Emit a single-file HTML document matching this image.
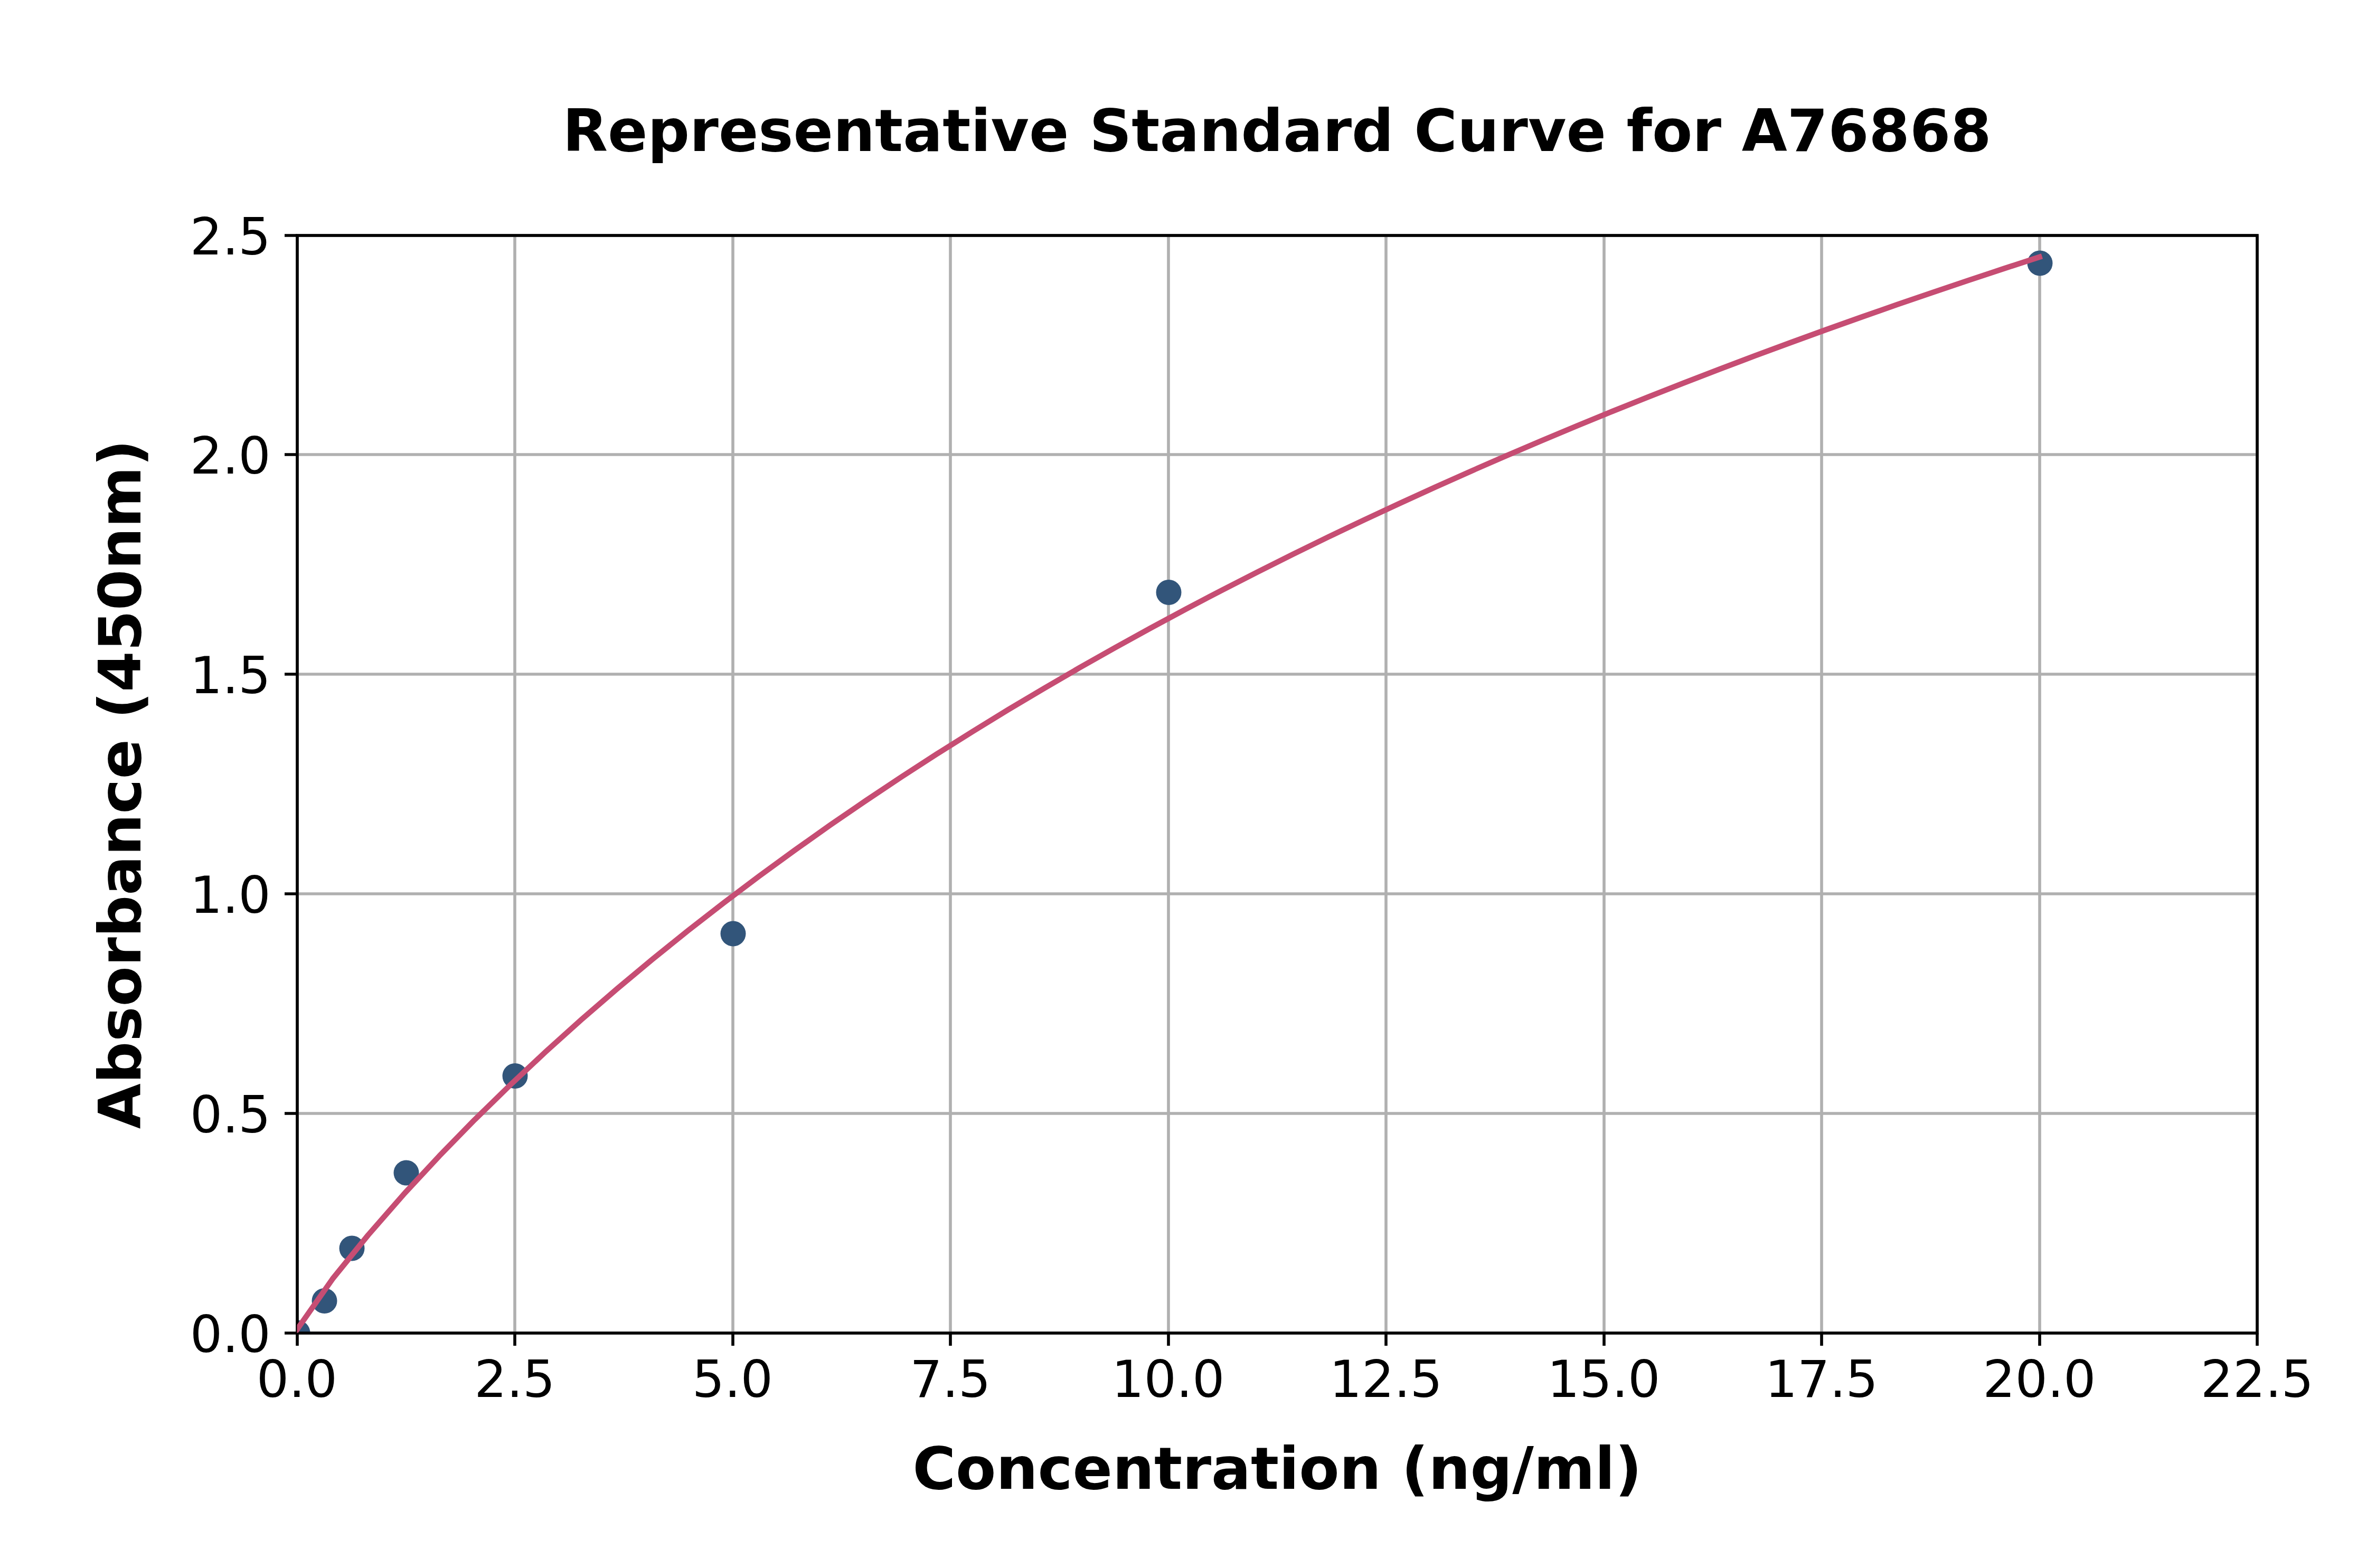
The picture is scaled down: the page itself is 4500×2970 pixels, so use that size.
<!DOCTYPE html>
<html lang="en"><head><meta charset="utf-8"><title>Representative Standard Curve for A76868</title>
<style>html,body{margin:0;padding:0;background:#fff}body{width:4500px;height:2970px;overflow:hidden}svg{display:block}text{font-family:"DejaVu Sans","Liberation Sans",sans-serif;fill:#000}.t{font-size:96.7px;letter-spacing:-0.3px}.b{font-size:111.2px;font-weight:bold}</style></head><body>
<svg width="4500" height="2970" viewBox="0 0 4500 2970">
<rect width="4500" height="2970" fill="#fff"/>
<defs><clipPath id="ax"><rect x="562.5" y="445.5" width="3712.5" height="2079.0"/></clipPath></defs>
<path d="M563 2525V446M975 2525V446M1388 2525V446M1800 2525V446M2213 2525V446M2625 2525V446M3038 2525V446M3450 2525V446M3863 2525V446M4275 2525V446M563 2525H4275M563 2109H4275M563 1693H4275M563 1277H4275M563 861H4275M563 446H4275" stroke="#b0b0b0" stroke-width="5.6" fill="none"/>
<g clip-path="url(#ax)" fill="#32557a">
<circle cx="563.5" cy="2524.5" r="24"/>
<circle cx="614.5" cy="2464.0" r="24"/>
<circle cx="666.5" cy="2364.5" r="24"/>
<circle cx="769.5" cy="2221.5" r="24"/>
<circle cx="975.5" cy="2038.0" r="24"/>
<circle cx="1388.5" cy="1768.5" r="24"/>
<circle cx="2213.5" cy="1122.0" r="24"/>
<circle cx="3863.5" cy="498.5" r="24"/>
</g>
<path d="M563 2525v24M975 2525v24M1388 2525v24M1800 2525v24M2213 2525v24M2625 2525v24M3038 2525v24M3450 2525v24M3863 2525v24M4275 2525v24M563 2525h-24M563 2109h-24M563 1693h-24M563 1277h-24M563 861h-24M563 446h-24" stroke="#000" stroke-width="5.6" fill="none"/>
<rect x="563" y="446" width="3712" height="2079" fill="none" stroke="#000" stroke-width="5.6" stroke-linejoin="miter"/>
<path clip-path="url(#ax)" d="M562.5 2518.4 L629.8 2422.4 L697.2 2339.4 L764.5 2262.3 L831.9 2189.7 L899.2 2120.7 L966.6 2054.9 L1033.9 1991.8 L1101.3 1931.2 L1168.6 1873.0 L1236.0 1816.8 L1303.3 1762.5 L1370.7 1710.1 L1438.0 1659.4 L1505.4 1610.3 L1572.7 1562.6 L1640.1 1516.4 L1707.4 1471.5 L1774.7 1427.9 L1842.1 1385.6 L1909.4 1344.3 L1976.8 1304.2 L2044.1 1265.1 L2111.5 1227.0 L2178.8 1189.9 L2246.2 1153.6 L2313.5 1118.3 L2380.9 1083.8 L2448.2 1050.1 L2515.6 1017.2 L2582.9 985.1 L2650.3 953.7 L2717.6 922.9 L2784.9 892.9 L2852.3 863.5 L2919.6 834.7 L2987.0 806.5 L3054.3 778.9 L3121.7 751.9 L3189.0 725.4 L3256.4 699.4 L3323.7 673.9 L3391.1 649.0 L3458.4 624.5 L3525.8 600.5 L3593.1 576.9 L3660.5 553.8 L3727.8 531.1 L3795.2 508.8 L3862.5 486.9" stroke="#c64d73" stroke-width="10.4" fill="none" stroke-linecap="square" stroke-linejoin="round"/>
<text class="t" x="562.3" y="2646" text-anchor="middle">0.0</text>
<text class="t" x="974.8" y="2646" text-anchor="middle">2.5</text>
<text class="t" x="1387.3" y="2646" text-anchor="middle">5.0</text>
<text class="t" x="1799.8" y="2646" text-anchor="middle">7.5</text>
<text class="t" x="2212.3" y="2646" text-anchor="middle">10.0</text>
<text class="t" x="2624.8" y="2646" text-anchor="middle">12.5</text>
<text class="t" x="3037.3" y="2646" text-anchor="middle">15.0</text>
<text class="t" x="3449.8" y="2646" text-anchor="middle">17.5</text>
<text class="t" x="3862.3" y="2646" text-anchor="middle">20.0</text>
<text class="t" x="4274.8" y="2646" text-anchor="middle">22.5</text>
<text class="t" x="512.6" y="2560.6" text-anchor="end">0.0</text>
<text class="t" x="512.6" y="2144.6" text-anchor="end">0.5</text>
<text class="t" x="512.6" y="1728.6" text-anchor="end">1.0</text>
<text class="t" x="512.6" y="1312.6" text-anchor="end">1.5</text>
<text class="t" x="512.6" y="896.6" text-anchor="end">2.0</text>
<text class="t" x="512.6" y="481.6" text-anchor="end">2.5</text>
<text class="b" x="2418.6" y="285.8" text-anchor="middle">Representative Standard Curve for A76868</text>
<text class="b" x="2419" y="2819.8" text-anchor="middle">Concentration (ng/ml)</text>
<text class="b" transform="translate(266,1485.5) rotate(-90)" text-anchor="middle">Absorbance (450nm)</text>
</svg></body></html>
